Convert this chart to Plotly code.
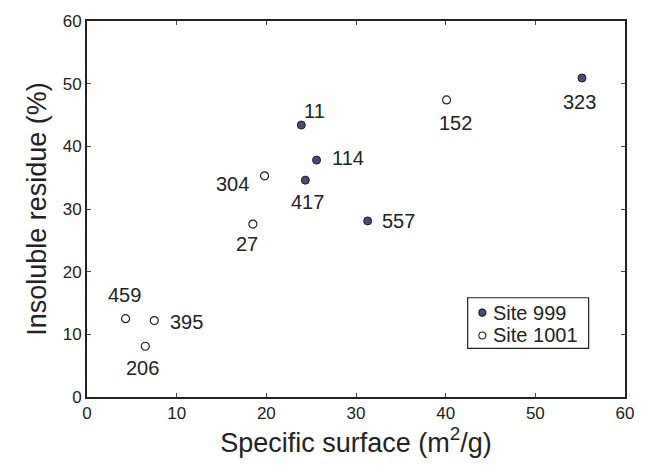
import plotly.graph_objects as go

# Site 999 (filled)
s999_x = [23.9, 25.6, 24.35, 31.3, 55.2]
s999_y = [43.4, 37.8, 34.6, 28.1, 50.9]
s999_lab = ["11", "114", "417", "557", "323"]

# Site 1001 (open)
s1001_x = [19.8, 18.5, 40.1, 4.3, 7.5, 6.5]
s1001_y = [35.3, 27.6, 47.4, 12.5, 12.2, 8.1]
s1001_lab = ["304", "27", "152", "459", "395", "206"]

ticks = [0, 10, 20, 30, 40, 50, 60]
legend_names = ["Site 999", "Site 1001"]

# label pixel offsets (xshift, yshift, anchor)
lab_pos = {
    "11": (13, 14, "center"),
    "114": (13, 2, "left"),
    "417": (2, -22, "center"),
    "557": (12, 0, "left"),
    "323": (-2, -24, "center"),
    "304": (-14, -8, "right"),
    "27": (-6, -20, "center"),
    "152": (9, -23, "center"),
    "459": (-1, 24, "center"),
    "395": (14, -1, "left"),
    "206": (-3, -22, "center"),
}

FONT = "Arial"
TXT = "#222222"
FILL999 = "#4a4a72"

fig = go.Figure()
fig.add_trace(go.Scatter(
    x=s999_x, y=s999_y, mode="markers", name=legend_names[0], showlegend=False,
    marker=dict(size=8, color=FILL999, line=dict(color="#1a1a2a", width=1)),
))
fig.add_trace(go.Scatter(
    x=s1001_x, y=s1001_y, mode="markers", name=legend_names[1], showlegend=False,
    marker=dict(size=8, color="white", line=dict(color="#222222", width=1.2)),
))

for xs, ys, labs in [(s999_x, s999_y, s999_lab), (s1001_x, s1001_y, s1001_lab)]:
    for x, y, t in zip(xs, ys, labs):
        dx, dy, anc = lab_pos[t]
        fig.add_annotation(x=x, y=y, text=t, showarrow=False,
                           xshift=dx, yshift=dy, xanchor=anc, yanchor="middle",
                           font=dict(size=20, color=TXT, family=FONT))

# manual legend box (paper coordinates)
fig.add_shape(type="rect", xref="paper", yref="paper",
              x0=0.7075, x1=0.9324, y0=0.1293, y1=0.2639,
              line=dict(color="#222222", width=1.2), fillcolor="white", layer="above")
leg_rows_y = [0.2243, 0.1636]
leg_fill = [FILL999, "white"]
leg_line = ["#1a1a2a", "#222222"]
for name, yy, fc, lc in zip(legend_names, leg_rows_y, leg_fill, leg_line):
    fig.add_shape(type="circle", xref="paper", yref="paper",
                  xsizemode="pixel", ysizemode="pixel",
                  xanchor=0.7349, yanchor=yy, x0=-3.5, x1=3.5, y0=-3.5, y1=3.5,
                  fillcolor=fc, line=dict(color=lc, width=1.1), layer="above")
    fig.add_annotation(xref="paper", yref="paper", x=0.7514, y=yy, text=name,
                       showarrow=False, xanchor="left", yanchor="middle",
                       font=dict(size=20, color=TXT, family=FONT))

axis_common = dict(
    range=[0, 60], tickvals=ticks, ticktext=[str(t) for t in ticks],
    showline=True, linecolor="#222222", linewidth=2, mirror="ticks",
    ticks="inside", ticklen=4, tickwidth=1, tickcolor="#444444",
    showgrid=False, zeroline=False,
    tickfont=dict(size=17, color=TXT, family=FONT),
)

fig.update_layout(
    width=646, height=468,
    margin=dict(l=87, r=12, t=18, b=71),
    paper_bgcolor="white", plot_bgcolor="white",
    font=dict(family=FONT, color=TXT),
    xaxis=dict(**axis_common,
               title=dict(text="Specific surface (m<sup>2</sup>/g)",
                          font=dict(size=27, family=FONT, color=TXT), standoff=4)),
    yaxis=dict(**axis_common,
               title=dict(text="Insoluble residue (%)",
                          font=dict(size=27, family=FONT, color=TXT), standoff=8)),
    showlegend=False,
)

fig.write_html("out.html")
